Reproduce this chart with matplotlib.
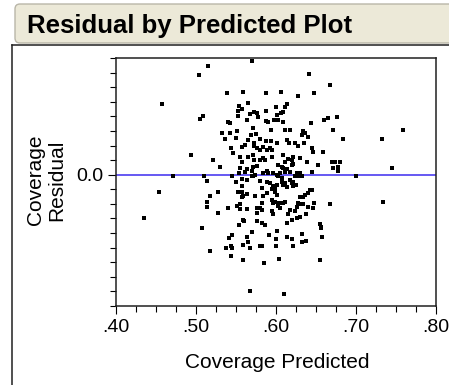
import matplotlib
matplotlib.use("Agg")
import matplotlib.pyplot as plt
from matplotlib.patches import FancyBboxPatch
from matplotlib.lines import Line2D
from matplotlib.transforms import IdentityTransform
from matplotlib.ticker import MultipleLocator, FixedLocator

plt.rcParams['font.family'] = ['Liberation Sans', 'DejaVu Sans']

title = "Residual by Predicted Plot"
x_label = "Coverage Predicted"
y_label = "Coverage\nResidual"
x_tick_values = [0.40, 0.50, 0.60, 0.70, 0.80]
x_tick_labels = [".40", ".50", ".60", ".70", ".80"]
y_tick_values = [0.0]
y_tick_labels = ["0.0"]

# predicted coverage and residual for each observation
predicted = [
    0.570, 0.515, 0.504, 0.458, 0.539, 0.559, 0.565, 0.554, 0.558, 0.553,
    0.509, 0.505, 0.553, 0.568, 0.540, 0.543, 0.564, 0.533, 0.543, 0.551,
    0.536, 0.550, 0.569, 0.575, 0.565, 0.561, 0.558, 0.544, 0.546, 0.494,
    0.521, 0.530, 0.555, 0.558, 0.555, 0.565, 0.561, 0.564, 0.554,
    0.641, 0.668, 0.588, 0.606, 0.628, 0.648, 0.614, 0.611, 0.609, 0.606,
    0.600, 0.588, 0.576, 0.573, 0.578, 0.601, 0.588, 0.590, 0.598, 0.603,
    0.609, 0.644, 0.660, 0.665, 0.676, 0.571, 0.594, 0.611, 0.618, 0.634,
    0.636, 0.633, 0.640, 0.671, 0.759,
    0.580, 0.588, 0.594, 0.601, 0.614, 0.616, 0.628, 0.624, 0.684, 0.733,
    0.635, 0.573, 0.573, 0.576, 0.580, 0.584, 0.589, 0.593, 0.595, 0.645,
    0.646, 0.659, 0.609, 0.621, 0.620, 0.615, 0.611, 0.630, 0.639, 0.595,
    0.584, 0.580, 0.586, 0.571, 0.573, 0.571, 0.576, 0.603, 0.608, 0.609,
    0.614, 0.620, 0.621, 0.653, 0.670, 0.674, 0.680, 0.678, 0.671, 0.745,
    0.589, 0.584, 0.590, 0.596, 0.605, 0.626, 0.630, 0.645, 0.611, 0.618,
    0.678, 0.570,
    0.601, 0.633, 0.624, 0.628, 0.700, 0.571, 0.574, 0.570, 0.603, 0.608,
    0.471, 0.510, 0.514, 0.454, 0.518, 0.528, 0.514, 0.514, 0.528, 0.435,
    0.508, 0.518, 0.545, 0.550, 0.558, 0.564, 0.558, 0.553, 0.558, 0.564,
    0.558, 0.559, 0.574, 0.540, 0.551, 0.555, 0.555, 0.564, 0.576, 0.576,
    0.559, 0.560, 0.554, 0.576, 0.570, 0.545, 0.541, 0.564, 0.565, 0.559,
    0.538, 0.544, 0.545, 0.544, 0.559, 0.580, 0.568, 0.610,
    0.734, 0.668, 0.580, 0.589, 0.593, 0.596, 0.601, 0.599, 0.595, 0.608,
    0.609, 0.614, 0.611, 0.618, 0.620, 0.621, 0.625, 0.621, 0.583, 0.584,
    0.589, 0.599, 0.601, 0.595, 0.599, 0.596, 0.583, 0.580, 0.583, 0.595,
    0.596, 0.603, 0.605, 0.604, 0.611, 0.609, 0.618, 0.615, 0.626, 0.628,
    0.630, 0.624, 0.634, 0.630, 0.636, 0.640, 0.643, 0.645, 0.634, 0.640,
    0.648, 0.646, 0.630, 0.638, 0.626, 0.620, 0.614, 0.583, 0.586, 0.601,
    0.591, 0.600, 0.600, 0.614, 0.620, 0.621, 0.633, 0.638, 0.633, 0.655,
    0.656, 0.656, 0.658, 0.583, 0.585, 0.604, 0.655, 0.568,
]
residual = [
    0.195, 0.187, 0.171, 0.122, 0.140, 0.142, 0.123, 0.118, 0.113, 0.110,
    0.101, 0.096, 0.101, 0.104, 0.091, 0.089, 0.094, 0.072, 0.072, 0.075,
    0.062, 0.063, 0.068, 0.070, 0.060, 0.051, 0.048, 0.046, 0.038, 0.034,
    0.026, 0.014, 0.031, 0.021, 0.012, 0.031, 0.005, 0.009, 0.003,
    0.173, 0.154, 0.140, 0.142, 0.135, 0.140, 0.122, 0.116, 0.108, 0.106,
    0.116, 0.110, 0.106, 0.108, 0.099, 0.103, 0.092, 0.091, 0.094, 0.094,
    0.091, 0.089, 0.094, 0.098, 0.099, 0.080, 0.077, 0.077, 0.077, 0.075,
    0.072, 0.068, 0.065, 0.077, 0.077,
    0.062, 0.057, 0.057, 0.055, 0.060, 0.055, 0.050, 0.055, 0.062, 0.062,
    0.055, 0.055, 0.050, 0.046, 0.043, 0.048, 0.043, 0.046, 0.043, 0.046,
    0.039, 0.039, 0.034, 0.031, 0.026, 0.027, 0.022, 0.029, 0.022, 0.031,
    0.029, 0.026, 0.026, 0.034, 0.026, 0.014, 0.015, 0.017, 0.014, 0.012,
    0.009, 0.017, 0.019, 0.017, 0.021, 0.022, 0.021, 0.014, 0.012, 0.012,
    0.007, 0.003, 0.003, 0.003, 0.003, 0.003, 0.003, 0.005, 0.005, 0.005,
    0.007, 0.007,
    0.000, -0.002, -0.003, -0.003, -0.003, -0.002, 0.000, -0.003, -0.002, -0.005,
    -0.003, -0.002, -0.010, -0.029, -0.036, -0.029, -0.046, -0.055, -0.065, -0.074,
    -0.092, -0.130, -0.002, -0.012, -0.007, -0.009, -0.019, -0.029, -0.029, -0.033,
    -0.038, -0.036, -0.036, -0.057, -0.053, -0.051, -0.058, -0.058, -0.057, -0.065,
    -0.077, -0.080, -0.087, -0.080, -0.098, -0.104, -0.108, -0.106, -0.115, -0.120,
    -0.125, -0.123, -0.125, -0.140, -0.147, -0.123, -0.200, -0.205,
    -0.046, -0.051, -0.010, -0.012, -0.014, -0.019, -0.017, -0.022, -0.024, -0.012,
    -0.017, -0.021, -0.014, -0.009, -0.014, -0.012, -0.017, -0.019, -0.022, -0.036,
    -0.031, -0.029, -0.034, -0.043, -0.046, -0.048, -0.048, -0.057, -0.060, -0.063,
    -0.068, -0.053, -0.057, -0.048, -0.046, -0.048, -0.060, -0.068, -0.055, -0.048,
    -0.051, -0.063, -0.051, -0.038, -0.034, -0.031, -0.027, -0.026, -0.039, -0.055,
    -0.048, -0.057, -0.072, -0.068, -0.074, -0.077, -0.082, -0.082, -0.087, -0.096,
    -0.103, -0.111, -0.123, -0.106, -0.111, -0.123, -0.101, -0.113, -0.116, -0.084,
    -0.089, -0.092, -0.106, -0.123, -0.151, -0.144, -0.147, -0.125,
]

W, H = 449, 385
fig = plt.figure(figsize=(W / 100, H / 100), dpi=100)
fig.patch.set_facecolor("white")

px = IdentityTransform()

# outline header bar
header = FancyBboxPatch((15, H - 43), 450, 39,
                        boxstyle="round,pad=0,rounding_size=5",
                        facecolor="#ECE9D8", edgecolor="#B9B6A8",
                        linewidth=1.0, transform=px, zorder=1)
fig.patches.append(header)
fig.text(27, H - 33, title, transform=px, fontsize=18.5, fontweight="bold",
         ha="left", va="baseline", color="black")

# report panel frame
fig.lines.append(Line2D([12, W + 5], [H - 45, H - 45], transform=px,
                        color="#202020", linewidth=1.1))
fig.lines.append(Line2D([12, 12], [H - 45, -5], transform=px,
                        color="#202020", linewidth=1.1))

ax = fig.add_axes([116 / W, (H - 306) / H, 320 / W, 248 / H])
ax.scatter(predicted, residual, marker="s", s=12, color="black",
           linewidths=0, zorder=3)
ax.axhline(0.0, color="#4B3CF0", linewidth=1.2, zorder=2)

ax.set_xlim(0.40, 0.80)
ax.set_ylim(-0.225, 0.2)
ax.xaxis.set_major_locator(FixedLocator(x_tick_values))
ax.set_xticklabels(x_tick_labels)
ax.xaxis.set_minor_locator(MultipleLocator(0.025))
ax.yaxis.set_major_locator(FixedLocator(y_tick_values))
ax.set_yticklabels(y_tick_labels)
ax.yaxis.set_minor_locator(MultipleLocator(0.025))

ax.tick_params(which="both", direction="out", width=0.8, color="black",
               labelsize=14)
ax.tick_params(which="major", length=6.0, pad=3)
ax.tick_params(which="minor", length=4.0)
for s in ax.spines.values():
    s.set_linewidth(1.1)
    s.set_color("#202020")

fig.text(277, H - 362, x_label, transform=px, fontsize=15,
         ha="center", va="center")
fig.text(46, H - 180, y_label, transform=px, fontsize=15, rotation=90,
         ha="center", va="center", multialignment="center",
         linespacing=1.2)

fig.savefig("out.png", dpi=100)
